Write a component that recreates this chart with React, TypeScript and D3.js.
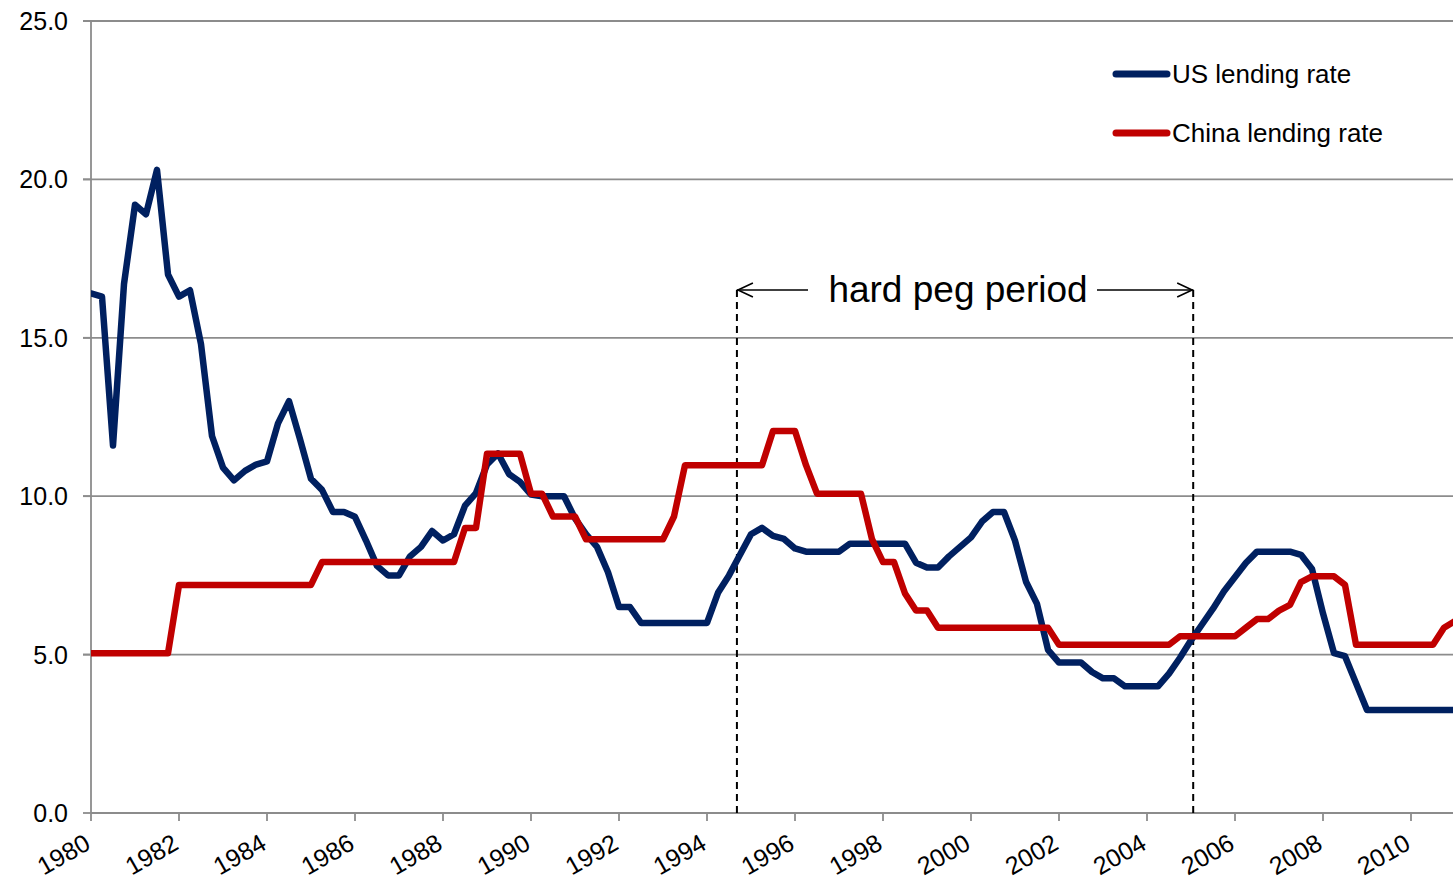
import React from "react";
import * as d3 from "d3";

// Quarterly data starting 1980Q1
const startYear = 1980;
const usRate: number[] = [
  16.4, 16.3, 11.6, 16.7,
  19.2, 18.9, 20.3, 17.0,
  16.3, 16.5, 14.8, 11.9,
  10.9, 10.5, 10.8, 11.0,
  11.1, 12.3, 13.0, 11.8,
  10.55, 10.2, 9.5, 9.5,
  9.35, 8.6, 7.8, 7.5,
  7.5, 8.1, 8.4, 8.9,
  8.6, 8.8, 9.7, 10.1,
  11.0, 11.35, 10.7, 10.45,
  10.05, 10.0, 10.0, 10.0,
  9.3, 8.8, 8.4, 7.6,
  6.5, 6.5, 6.0, 6.0,
  6.0, 6.0, 6.0, 6.0,
  6.0, 6.95, 7.5, 8.15,
  8.8, 9.0, 8.75, 8.65,
  8.35, 8.25, 8.25, 8.25,
  8.25, 8.5, 8.5, 8.5,
  8.5, 8.5, 8.5, 7.9,
  7.75, 7.75, 8.1, 8.4,
  8.7, 9.2, 9.5, 9.5,
  8.6, 7.3, 6.6, 5.15,
  4.75, 4.75, 4.75, 4.45,
  4.25, 4.25, 4.0, 4.0,
  4.0, 4.0, 4.4, 4.9,
  5.45, 5.95, 6.45, 7.0,
  7.45, 7.9, 8.25, 8.25,
  8.25, 8.25, 8.15, 7.7,
  6.3, 5.05, 4.95, 4.1,
  3.25, 3.25, 3.25, 3.25,
  3.25, 3.25, 3.25, 3.25,
  3.25,
];
const chinaRate: number[] = [
  5.04, 5.04, 5.04, 5.04,
  5.04, 5.04, 5.04, 5.04,
  7.2, 7.2, 7.2, 7.2,
  7.2, 7.2, 7.2, 7.2,
  7.2, 7.2, 7.2, 7.2,
  7.2, 7.92, 7.92, 7.92,
  7.92, 7.92, 7.92, 7.92,
  7.92, 7.92, 7.92, 7.92,
  7.92, 7.92, 9.0, 9.0,
  11.34, 11.34, 11.34, 11.34,
  10.08, 10.08, 9.36, 9.36,
  9.36, 8.64, 8.64, 8.64,
  8.64, 8.64, 8.64, 8.64,
  8.64, 9.36, 10.98, 10.98,
  10.98, 10.98, 10.98, 10.98,
  10.98, 10.98, 12.06, 12.06,
  12.06, 10.98, 10.08, 10.08,
  10.08, 10.08, 10.08, 8.64,
  7.92, 7.92, 6.93, 6.39,
  6.39, 5.85, 5.85, 5.85,
  5.85, 5.85, 5.85, 5.85,
  5.85, 5.85, 5.85, 5.85,
  5.31, 5.31, 5.31, 5.31,
  5.31, 5.31, 5.31, 5.31,
  5.31, 5.31, 5.31, 5.58,
  5.58, 5.58, 5.58, 5.58,
  5.58, 5.85, 6.12, 6.12,
  6.39, 6.57, 7.29, 7.47,
  7.47, 7.47, 7.2, 5.31,
  5.31, 5.31, 5.31, 5.31,
  5.31, 5.31, 5.31, 5.85,
  6.06,
];
const yTicks = [0, 5, 10, 15, 20, 25];
const xTickYears = d3.range(1980, 2011, 2);
const seriesNames = ["US lending rate", "China lending rate"];
const pegStart = 1994.68;
const pegEnd = 2005.05;
const pegLabel = "hard peg period";

const W = 1453;
const H = 880;
const FONT = "'Liberation Sans', Arial, sans-serif";

export default function App() {
  const x = d3.scaleLinear().domain([1980, 2011]).range([91, 91 + 31 * 44]);
  const y = d3.scaleLinear().domain([0, 25]).range([813, 21]);

  const toPts = (arr: number[]) => arr.map((v, i) => [startYear + i * 0.25, v] as [number, number]);
  const line = d3
    .line<[number, number]>()
    .x((d) => x(d[0]))
    .y((d) => y(d[1]));

  const colors = ["#002060", "#C00000"];
  const series = [usRate, chinaRate];
  const x0 = x(1980);
  const xp1 = x(pegStart);
  const xp2 = x(pegEnd);
  const arrowY = 290;

  return (
    <svg
      width={W}
      height={H}
      style={{ position: "absolute", left: 0, top: 0, background: "#fff" }}
      fontFamily={FONT}
    >
      <defs>
        <clipPath id="plotclip">
          <rect x={x0} y={0} width={W - x0} height={H} />
        </clipPath>
      </defs>
      {/* gridlines */}
      {yTicks.map((t) => (
        <g key={t}>
          {t > 0 && (
            <line x1={x0 - 8} x2={W} y1={y(t)} y2={y(t)} stroke="#8c8c8c" strokeWidth={1.8} />
          )}
          <line x1={x0 - 8} x2={x0} y1={y(t)} y2={y(t)} stroke="#8c8c8c" strokeWidth={1.8} />
          <text x={68} y={y(t)} textAnchor="end" dominantBaseline="central" fontSize={25} fill="#000">
            {t.toFixed(1)}
          </text>
        </g>
      ))}
      {/* axes */}
      <line x1={x0} x2={x0} y1={y(25)} y2={y(0)} stroke="#8c8c8c" strokeWidth={1.8} />
      <line x1={x0} x2={W} y1={y(0)} y2={y(0)} stroke="#8c8c8c" strokeWidth={1.8} />
      {xTickYears.map((yr) => (
        <g key={yr}>
          <line x1={x(yr)} x2={x(yr)} y1={y(0)} y2={y(0) + 8} stroke="#8c8c8c" strokeWidth={1.8} />
          <text
            transform={`translate(${x(yr) + 1},848) rotate(-30)`}
            textAnchor="end"
            fontSize={25}
            fill="#000"
          >
            {yr}
          </text>
        </g>
      ))}
      {/* peg annotation */}
      {[xp1, xp2].map((xx, i) => (
        <line key={i} x1={xx} x2={xx} y1={arrowY} y2={y(0)} stroke="#000" strokeWidth={2} strokeDasharray="7,5" />
      ))}
      <line x1={xp1} x2={808} y1={arrowY} y2={arrowY} stroke="#000" strokeWidth={1.6} />
      <polyline
        points={`${xp1 + 16},${arrowY - 7} ${xp1 + 1},${arrowY} ${xp1 + 16},${arrowY + 7}`}
        fill="none"
        stroke="#000"
        strokeWidth={1.6}
      />
      <line x1={1097} x2={xp2} y1={arrowY} y2={arrowY} stroke="#000" strokeWidth={1.6} />
      <polyline
        points={`${xp2 - 16},${arrowY - 7} ${xp2 - 1},${arrowY} ${xp2 - 16},${arrowY + 7}`}
        fill="none"
        stroke="#000"
        strokeWidth={1.6}
      />
      <text x={958} y={302} textAnchor="middle" fontSize={37} fill="#000">
        {pegLabel}
      </text>
      {/* series */}
      <g clipPath="url(#plotclip)">
        {series.map((s, i) => (
          <path
            key={i}
            d={line(toPts(s)) || ""}
            fill="none"
            stroke={colors[i]}
            strokeWidth={6.5}
            strokeLinejoin="round"
            strokeLinecap="round"
          />
        ))}
      </g>
      {/* legend */}
      {seriesNames.map((n, i) => (
        <g key={n}>
          <line
            x1={1116}
            x2={1167}
            y1={74 + i * 59}
            y2={74 + i * 59}
            stroke={colors[i]}
            strokeWidth={7}
            strokeLinecap="round"
          />
          <text x={1172} y={74 + i * 59} dominantBaseline="central" fontSize={26} fill="#000">
            {n}
          </text>
        </g>
      ))}
    </svg>
  );
}
